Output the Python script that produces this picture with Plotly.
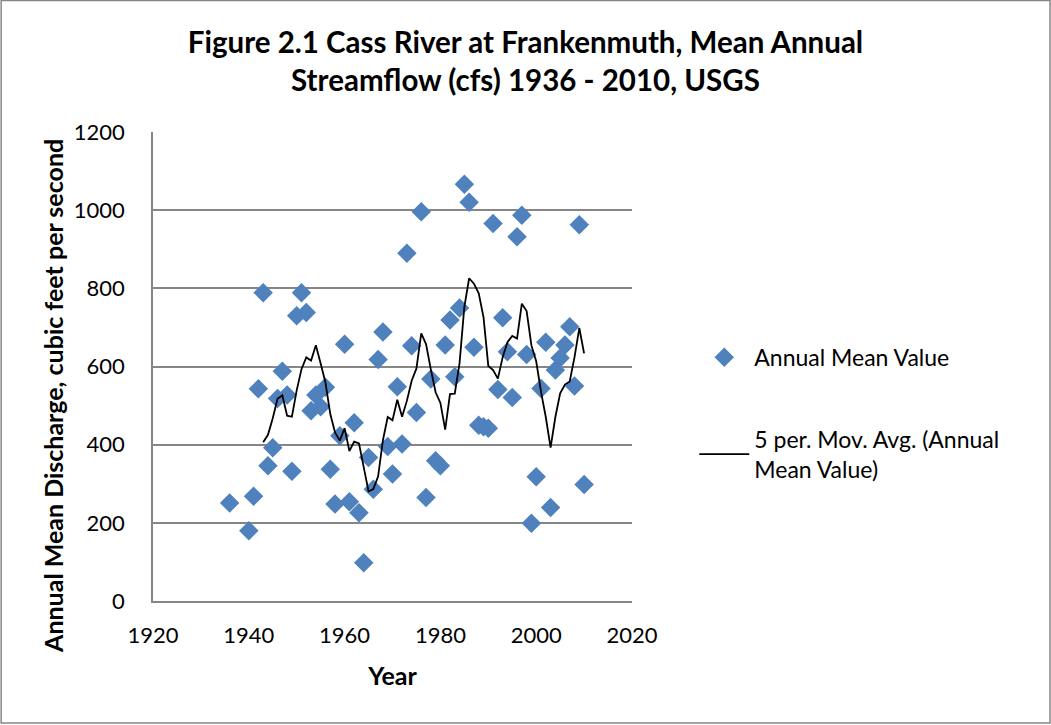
import plotly.graph_objs as go
import pandas as pd

# annual mean discharge (cfs)
years = [1936, 1940, 1941, 1942, 1943, 1944, 1945, 1946, 1947, 1948,
         1949, 1950, 1951, 1952, 1953, 1954, 1955, 1956, 1957, 1958,
         1959, 1960, 1961, 1962, 1963, 1964, 1965, 1966, 1967, 1968,
         1969, 1970, 1971, 1972, 1973, 1974, 1975, 1976, 1977, 1978,
         1979, 1980, 1981, 1982, 1983, 1984, 1985, 1986, 1987, 1988,
         1989, 1990, 1991, 1992, 1993, 1994, 1995, 1996, 1997, 1998,
         1999, 2000, 2001, 2002, 2003, 2004, 2005, 2006, 2007, 2008,
         2009, 2010]
flow = [251, 180, 268, 543, 789, 346, 392, 518, 588, 527,
        332, 730, 789, 738, 487, 527, 497, 547, 337, 248,
        423, 657, 254, 456, 226, 98, 367, 286, 618, 688,
        395, 325, 548, 402, 890, 653, 482, 996, 265, 568,
        359, 346, 655, 719, 574, 750, 1066, 1020, 649, 450,
        446, 442, 966, 541, 725, 638, 521, 932, 987, 631,
        199, 318, 544, 662, 239, 591, 622, 655, 702, 550,
        963, 298]

df = pd.DataFrame({"year": years, "flow": flow})
# Excel-style 5 period moving average trendline (over points, not years)
df["ma"] = df["flow"].rolling(5).mean()
ma = df.dropna()

FONT = "Lato"

data = []
data.append(go.Scatter(x=df.year, y=df.flow, mode="markers",
                       name="Annual Mean Value",
                       marker=dict(symbol="diamond", size=15, color="#4F81BD",
                                   line=dict(width=0)),
                       legendgroup="a"))
data.append(go.Scatter(x=ma.year, y=ma.ma, mode="lines",
                       name="5 per. Mov. Avg. (Annual<br>Mean Value)",
                       line=dict(color="black", width=1.8),
                       legendgroup="b"))

fig = go.Figure(data)
fig.update_layout(
    width=1051, height=725,
    paper_bgcolor="white", plot_bgcolor="white",
    margin=dict(l=153, r=419, t=132, b=124),
    font=dict(family=FONT, size=22, color="black"),
    title=dict(text="<b>Figure 2.1 Cass River at Frankenmuth, Mean Annual<br>Streamflow (cfs) 1936 - 2010, USGS</b>",
               x=0.5, xanchor="center", y=0.927, yanchor="top",
               font=dict(size=29.5, family=FONT)),
    legend=dict(x=1.13, y=0.40, xanchor="left", yanchor="middle",
                font=dict(size=23), tracegroupgap=49, itemwidth=50,
                bgcolor="rgba(0,0,0,0)"),
    shapes=[dict(type="rect", xref="paper", yref="paper",
                 x0=-0.317, x1=1.8727, y0=-0.260, y1=1.2804,
                 line=dict(color="#878787", width=1.5))],
    # y title sits a bit below the plot centre in the original
    annotations=[dict(text="<b>Annual Mean Discharge, cubic feet per second</b>",
                      xref="paper", yref="paper", x=-0.209, y=0.437,
                      xanchor="center", yanchor="middle", textangle=-90,
                      showarrow=False, font=dict(size=25))],
)
fig.update_xaxes(range=[1920, 2020], dtick=20, showgrid=False,
                 showline=True, linecolor="#868686", linewidth=1.5,
                 ticks="outside", ticklen=14, tickcolor="rgba(0,0,0,0)",
                 zeroline=False,
                 title=dict(text="<b>Year</b>", font=dict(size=25), standoff=20))
fig.update_yaxes(range=[0, 1200], dtick=200, showgrid=True,
                 gridcolor="#868686", gridwidth=1.5,
                 showline=True, linecolor="#868686", linewidth=1.5,
                 ticks="outside", ticklen=22, tickcolor="rgba(0,0,0,0)",
                 zeroline=False)

fig.write_html("out.html", config={"displayModeBar": False},
               post_script="document.body.style.margin='0';")
